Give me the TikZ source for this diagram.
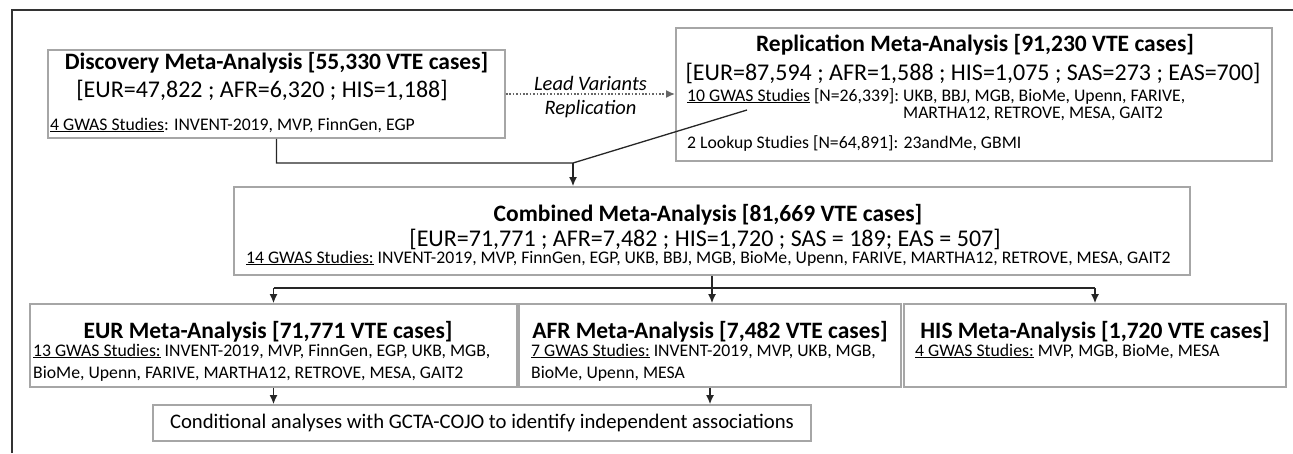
\documentclass[tikz,border=0pt]{standalone}
\usepackage{fontspec}
\setmainfont{Carlito}
\usetikzlibrary{arrows.meta}

% text sizes used in the boxes
\newcommand{\headfnt}{\fontsize{23.5}{28}\selectfont\bfseries}
\newcommand{\countfnt}{\fontsize{24}{29}\selectfont}
\newcommand{\studyfnt}{\fontsize{17.7}{17}\selectfont}
\newcommand{\notefnt}{\fontsize{20.7}{25}\selectfont}

\begin{document}
\begin{tikzpicture}
[x=1pt,y=-1pt,
box/.style={draw=black!35,line width=1.8pt,fill=white,inner sep=0pt},
boxhead/.style={anchor=base,inner sep=0pt,font=\headfnt},
boxcnt/.style={anchor=base,inner sep=0pt,font=\countfnt},
boxstudy/.style={anchor=base west,inner sep=0pt,font=\studyfnt},
lbl/.style={anchor=base,inner sep=0pt,font=\fontsize{20.5}{24}\selectfont\itshape},
lnk/.style={line width=1.3pt,draw=black!85},
arr/.style={lnk,-{Latex[length=9pt,width=8pt]}},
dotarr/.style={line width=1.7pt,draw=black!60,dash pattern=on 1.7pt off 1.7pt,-{Latex[length=9pt,width=8pt]}}]
\useasboundingbox (0,0) rectangle (1293,453);
\draw[line width=2pt,draw=black!80] (12,453) -- (12,10) -- (1293,10);

% discovery
\node (DM) [box,minimum width=457pt,minimum height=88pt] at (276.5,94) {};
\node (DMh) [boxhead] at (276.5,69) {Discovery Meta-Analysis [55,330 VTE cases]};
\node (DMc) [boxcnt] at (262,97) {[EUR=47,822 ; AFR=6,320 ; HIS=1,188]};
\node (DMs) [boxstudy] at (50,130) {\underline{4 GWAS Studies}: INVENT-2019, MVP, FinnGen, EGP};

% replication
\node (RM) [box,minimum width=596pt,minimum height=133pt] at (974,94.5) {};
\node (RMh) [boxhead] at (975,51) {Replication Meta-Analysis [91,230 VTE cases]};
\node (RMc) [boxcnt] at (973,80) {[EUR=87,594 ; AFR=1,588 ; HIS=1,075 ; SAS=273 ; EAS=700]};
\node (RMs) [boxstudy] at (687,101) {\begin{tabular}[t]{@{}l@{\ }l@{}}
  \underline{10 GWAS Studies} [N=26,339]: & UKB, BBJ, MGB, BioMe, Upenn, FARIVE,\\
  & MARTHA12, RETROVE, MESA, GAIT2\end{tabular}};
\node (RMl) [boxstudy] at (687,148) {2 Lookup Studies [N=64,891]: 23andMe, GBMI};

% combined
\node (CM) [box,minimum width=956pt,minimum height=88pt] at (712,231) {};
\node (CMh) [boxhead] at (708,221) {Combined Meta-Analysis [81,669 VTE cases]};
\node (CMc) [boxcnt] at (705,246) {[EUR=71,771 ; AFR=7,482 ; HIS=1,720 ; SAS = 189; EAS = 507]};
\node (CMs) [boxstudy] at (246,263) {\underline{14 GWAS Studies:} INVENT-2019, MVP, FinnGen, EGP, UKB, BBJ, MGB, BioMe, Upenn, FARIVE, MARTHA12, RETROVE, MESA, GAIT2};

% per ancestry
\node (EUR) [box,minimum width=487pt,minimum height=83pt] at (273.5,345.5) {};
\node (EURh) [boxhead] at (268,338) {EUR Meta-Analysis [71,771 VTE cases]};
\node (EURs) [boxstudy] at (33,356) {\underline{13 GWAS Studies:} INVENT-2019, MVP, FinnGen, EGP, UKB, MGB,};
\node (EURs2) [boxstudy] at (33,378) {BioMe, Upenn, FARIVE, MARTHA12, RETROVE, MESA, GAIT2};

\node (AFR) [box,minimum width=382pt,minimum height=83pt] at (710,345.5) {};
\node (AFRh) [boxhead] at (710,338) {AFR Meta-Analysis [7,482 VTE cases]};
\node (AFRs) [boxstudy] at (531,356) {\underline{7 GWAS Studies:} INVENT-2019, MVP, UKB, MGB,};
\node (AFRs2) [boxstudy] at (531,378) {BioMe, Upenn, MESA};

\node (HIS) [box,minimum width=382pt,minimum height=83pt] at (1095,345.5) {};
\node (HISh) [boxhead] at (1095,338) {HIS Meta-Analysis [1,720 VTE cases]};
\node (HISs) [boxstudy] at (915,356) {\underline{4 GWAS Studies:} MVP, MGB, BioMe, MESA};

\node (CA) [box,minimum width=658pt,minimum height=36pt,font=\notefnt] at (482,423) {Conditional analyses with GCTA-COJO to identify independent associations};

% connectors
\draw[dotarr] (DM.east) -- node (LV) [lbl,yshift=3.5pt] {Lead Variants}
  node (LR) [lbl,yshift=-20.5pt] {Replication} (DM.east -| RM.west);
\coordinate (J) at (573,163);
\coordinate (RR) at (747,110);
\draw[lnk] (DM.south) |- (J) -- (RR);
\draw[arr] (J) -- (J |- CM.north);
\coordinate (S) at (712,288);
\draw[lnk] (S -| EUR.north) -- (S -| HIS.north);
\draw[arr] (CM.south) -- (CM.south |- AFR.north);
\foreach \n in {EUR,HIS}
  \draw[arr] (S -| \n.north) -- (\n.north);
\draw[arr] (EUR.south) -- (EUR.south |- CA.north);
\draw[arr] (AFR.south) -- (AFR.south |- CA.north);
\end{tikzpicture}
\end{document}
